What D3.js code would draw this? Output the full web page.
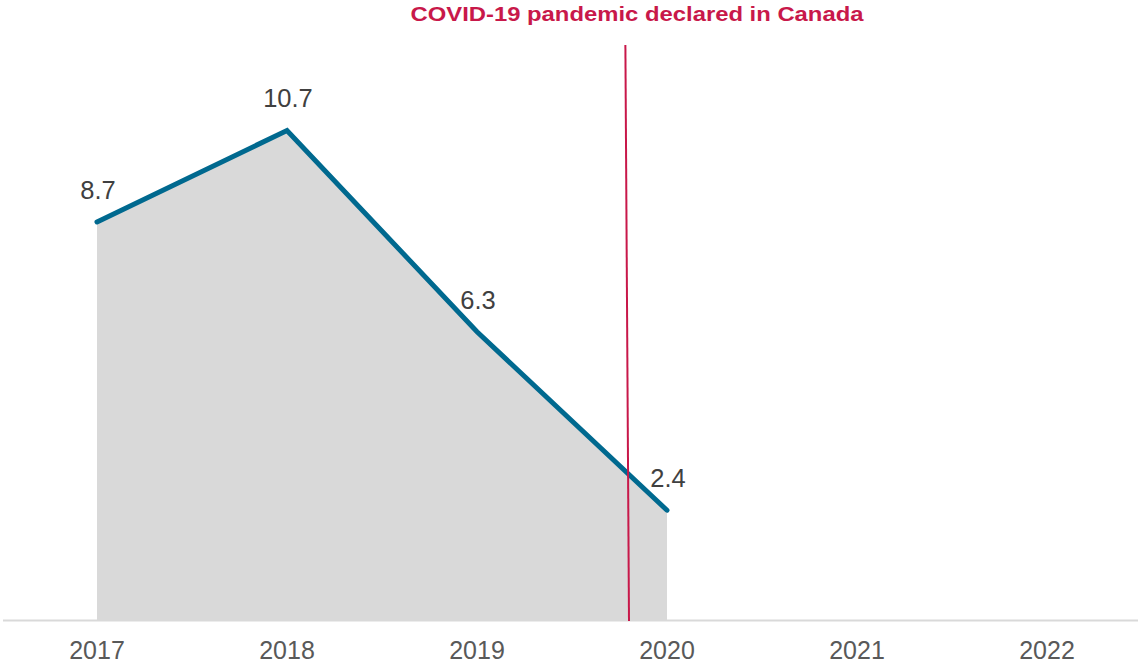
<!DOCTYPE html>
<html><head><meta charset="utf-8">
<script src="https://cdn.jsdelivr.net/npm/d3@7"></script>
<style>body{margin:0;background:#fff}svg{display:block}</style>
</head><body>
<script>
const years = [2017, 2018, 2019, 2020, 2021, 2022];
const dataYears = [2017, 2018, 2019, 2020];
const values = [8.7, 10.7, 6.3, 2.4];
const tickLabels = ["2017", "2018", "2019", "2020", "2021", "2022"];
const annotationText = "COVID-19 pandemic declared in Canada";
const covidTop = 2019.781;
const covidBottom = 2019.8;

const W = 1138, H = 663;
const svg = d3.select("body").append("svg").attr("width", W).attr("height", H);
const x = d3.scaleLinear().domain([2017, 2022]).range([97, 1047]);
const y = d3.scaleLinear().domain([0, 12]).range([620, 71]);
const pts = dataYears.map((d, i) => ({year: d, v: values[i]}));
const FONT = "Liberation Sans, Arial, sans-serif";

svg.append("path").datum(pts)
  .attr("d", d3.area().x(d => x(d.year)).y0(y(0)).y1(d => y(d.v)))
  .attr("fill", "#d9d9d9");

svg.append("line").attr("x1", 3).attr("x2", W).attr("y1", y(0) + 0.5).attr("y2", y(0) + 0.5)
  .attr("stroke", "#d9d9d9").attr("stroke-width", 2);

svg.append("path").datum(pts)
  .attr("d", d3.line().x(d => x(d.year)).y(d => y(d.v)))
  .attr("fill", "none").attr("stroke", "#00698f").attr("stroke-width", 5)
  .attr("stroke-linecap", "round").attr("stroke-linejoin", "miter");

svg.append("line")
  .attr("x1", x(covidTop)).attr("y1", 45)
  .attr("x2", x(covidBottom)).attr("y2", 621)
  .attr("stroke", "#c8184a").attr("stroke-width", 2);

svg.selectAll("text.val").data(pts).enter().append("text")
  .attr("class", "val")
  .attr("x", d => x(d.year) + 1).attr("y", d => y(d.v) - 23)
  .attr("text-anchor", "middle")
  .attr("font-family", FONT).attr("font-size", 25.5)
  .attr("fill", "#404040").text(d => d.v.toFixed(1));

svg.selectAll("text.tick").data(years).enter().append("text")
  .attr("class", "tick")
  .attr("x", d => x(d)).attr("y", 659)
  .attr("text-anchor", "middle")
  .attr("font-family", FONT).attr("font-size", 25)
  .attr("fill", "#595959").text((d, i) => tickLabels[i]);

svg.append("text").attr("x", 637).attr("y", 21)
  .attr("text-anchor", "middle")
  .attr("font-family", FONT).attr("font-size", 21)
  .attr("textLength", 453).attr("lengthAdjust", "spacingAndGlyphs")
  .attr("font-weight", "bold").attr("fill", "#c8184a").text(annotationText);
</script>
</body></html>
